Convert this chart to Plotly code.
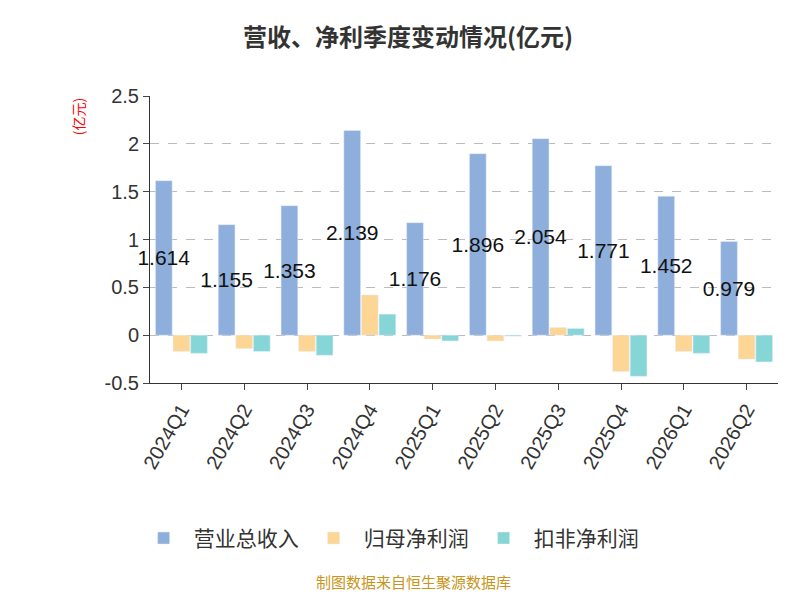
import plotly.graph_objects as go

quarters = ["2024Q1","2024Q2","2024Q3","2024Q4","2025Q1","2025Q2","2025Q3","2025Q4","2026Q1","2026Q2"]
revenue = [1.614,1.155,1.353,2.139,1.176,1.896,2.054,1.771,1.452,0.979]
net_profit = [-0.17,-0.14,-0.17,0.42,-0.04,-0.06,0.08,-0.38,-0.17,-0.25]
deducted = [-0.19,-0.17,-0.21,0.22,-0.06,-0.01,0.07,-0.43,-0.19,-0.28]

fig = go.Figure()
fig.add_bar(x=quarters, y=revenue, name="营业总收入", marker_color="#8eaedb",
            text=[f"{v:.3f}" for v in revenue], textposition="inside",
            insidetextanchor="middle", textfont=dict(color="#111", size=21, family="Liberation Sans"),
            constraintext="none", textangle=0, cliponaxis=False)
fig.add_bar(x=quarters, y=net_profit, name="归母净利润", marker_color="#fdd696")
fig.add_bar(x=quarters, y=deducted, name="扣非净利润", marker_color="#86d5d7")

fig.update_layout(
    width=800, height=600, paper_bgcolor="white", plot_bgcolor="white",
    font=dict(family="Noto Sans CJK SC", color="#333"),
    title=dict(text="<b>营收、净利季度变动情况(亿元)</b>", x=0.5, y=0.965, font=dict(size=24, color="#333")),
    margin=dict(l=142, r=30, t=88, b=225),
    bargap=0.16, bargroupgap=0.05,
    uniformtext=dict(minsize=21, mode="show"),
    legend=dict(orientation="h", x=0.38, xanchor="center", y=-0.47, yanchor="top",
                font=dict(size=21), itemwidth=50),
    annotations=[
        dict(text="(亿元)", x=-0.115, y=1.0, xref="paper", yref="paper", textangle=-90,
             showarrow=False, font=dict(color="red", size=14), xanchor="center", yanchor="top"),
        dict(text="制图数据来自恒生聚源数据库", x=0.42, y=-0.735, xref="paper", yref="paper",
             showarrow=False, font=dict(color="#c8951a", size=15)),
    ],
)
fig.update_yaxes(range=[-0.5, 2.5], tickvals=[-0.5,0,0.5,1,1.5,2,2.5],
                 ticktext=["-0.5","0","0.5","1","1.5","2","2.5"],
                 showgrid=True, gridcolor="#bbb", griddash="dash", zeroline=False,
                 showline=True, linecolor="#333", ticks="outside", ticklen=6,
                 tickfont=dict(size=20, family="Liberation Sans"))
fig.update_xaxes(tickangle=-60, tickfont=dict(size=20, family="Liberation Sans"), showline=True, linecolor="#333",
                 ticks="outside", ticklen=6)
fig.write_html("out.html")
